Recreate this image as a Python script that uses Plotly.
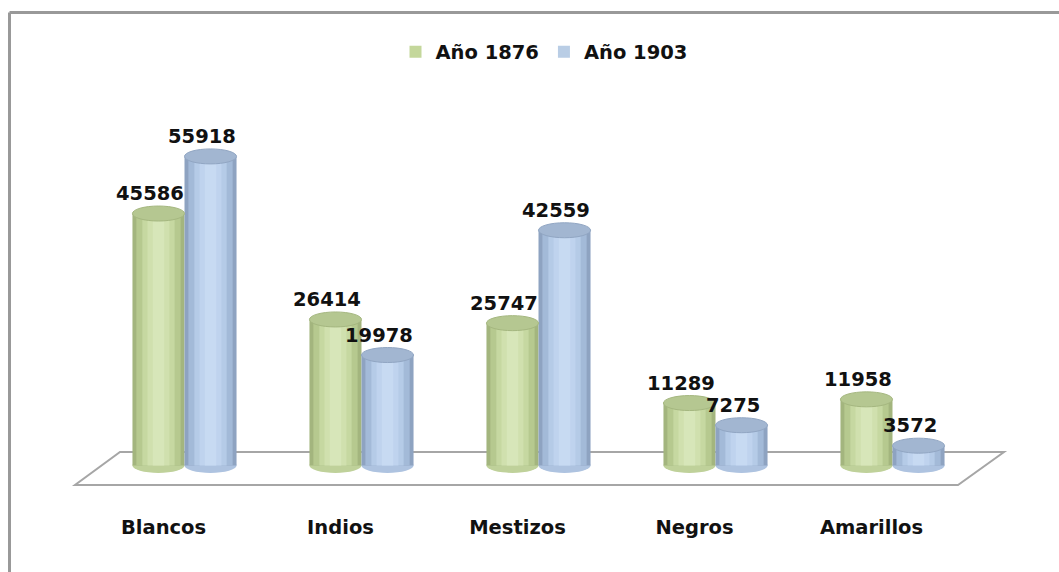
import plotly.graph_objects as go

categories = ["Blancos", "Indios", "Mestizos", "Negros", "Amarillos"]
series_names = ["Año 1876", "Año 1903"]
y1876 = [45586, 26414, 25747, 11289, 11958]
y1903 = [55918, 19978, 42559, 7275, 3572]

# styling
W, H = 1059, 572
M_L, M_R, M_T, M_B = 96, 78, 122, 90
YMIN, YMAX = -3000, 62147
BAR_W = 0.294
FONT = "DejaVu Sans"
FS = 19.5

green_layers = ["#a3b57e", "#b6c98f", "#c6d8a1", "#d0e0ae", "#d7e6b9"]
blue_layers = ["#8ea3c1", "#a3bad8", "#b5cbe7", "#bfd3ee", "#c7daf2"]
layer_fracs = [1.0, 0.85, 0.62, 0.42, 0.22]
legend_colors = ["#c4d79b", "#b9cde5"]
top_fill = ["#b5c791", "#a2b6d1"]
top_line = ["#a5b780", "#91a6c3"]
bottom_fill = ["#bfd19a", "#aec3e0"]

plot_w = W - M_L - M_R
plot_h = H - M_T - M_B
px_per_unit = plot_h / (YMAX - YMIN)


def px2x(p):
    return (p - M_L) / plot_w


def px2y(p):
    return (H - M_B - p) / plot_h


xs = list(range(len(categories)))
fig = go.Figure()

all_series = [y1876, y1903]
layers = [green_layers, blue_layers]
offsets = [-BAR_W, 0.0]

shapes = []
# floor
fl = [(120, 452), (1004, 452), (958, 485), (75, 485)]
path = "M " + " L ".join(f"{px2x(a)},{px2y(b)}" for a, b in fl) + " Z"
shapes.append(dict(type="path", path=path, xref="paper", yref="paper",
                   line=dict(color="#a6a6a6", width=2), fillcolor="rgba(255,255,255,0)",
                   layer="below"))
# outer border
shapes.append(dict(type="line", xref="paper", yref="paper",
                   x0=px2x(9.5), x1=px2x(1070), y0=px2y(12.5), y1=px2y(12.5),
                   line=dict(color="#999999", width=3)))
shapes.append(dict(type="line", xref="paper", yref="paper",
                   x0=px2x(9.5), x1=px2x(9.5), y0=px2y(12.5), y1=px2y(580),
                   line=dict(color="#999999", width=3)))

eh = 7.5 / px_per_unit  # ellipse half-height in data units

for s, vals in enumerate(all_series):
    center_off = offsets[s] + BAR_W / 2
    for lc, fr in zip(layers[s], layer_fracs):
        w = BAR_W * fr
        fig.add_trace(go.Bar(
            x=xs, y=vals, width=[w] * len(xs), offset=center_off - w / 2,
            marker=dict(color=lc, line=dict(width=0)),
            showlegend=False, hoverinfo="skip"))
    # legend entry
    fig.add_trace(go.Bar(x=[None], y=[None], name=series_names[s],
                         marker=dict(color=legend_colors[s], line=dict(width=0))))
    for i, v in zip(xs, vals):
        x0 = i + offsets[s]
        shapes.append(dict(type="circle", xref="x", yref="y", x0=x0, x1=x0 + BAR_W,
                           y0=v - eh, y1=v + eh, fillcolor=top_fill[s],
                           line=dict(color=top_line[s], width=1), layer="above"))
        shapes.append(dict(type="circle", xref="x", yref="y", x0=x0, x1=x0 + BAR_W,
                           y0=-eh, y1=eh, fillcolor=bottom_fill[s],
                           line=dict(width=0), layer="below"))

annotations = []
for s, vals in enumerate(all_series):
    for i, v in zip(xs, vals):
        annotations.append(dict(x=i + offsets[s] + BAR_W / 2, y=v, xref="x", yref="y",
                                text=str(v), showarrow=False, yshift=20, xshift=-8.5,
                                font=dict(family=FONT, size=FS, color="#111111", weight="bold")))

fig.update_layout(
    width=W, height=H,
    margin=dict(l=M_L, r=M_R, t=M_T, b=M_B),
    barmode="overlay",
    plot_bgcolor="white", paper_bgcolor="white",
    shapes=shapes, annotations=annotations,
    legend=dict(orientation="h", x=px2x(544), xanchor="center", y=px2y(52), yanchor="middle",
                font=dict(family=FONT, size=FS, color="#111111", weight="bold"),
                itemwidth=30, bgcolor="rgba(0,0,0,0)"),
    xaxis=dict(range=[-0.5, len(categories) - 0.5], tickvals=xs, ticktext=categories,
               showgrid=False, zeroline=False, showline=False, ticks="",
               ticklabelshift=-21, ticklabelstandoff=31,
               tickfont=dict(family=FONT, size=FS, color="#111111", weight="bold")),
    yaxis=dict(range=[YMIN, YMAX], visible=False, showgrid=False, zeroline=False),
)

fig.write_html("out.html", config={"displayModeBar": False},
               post_script="document.body.style.margin='0';document.body.style.overflow='hidden';")
